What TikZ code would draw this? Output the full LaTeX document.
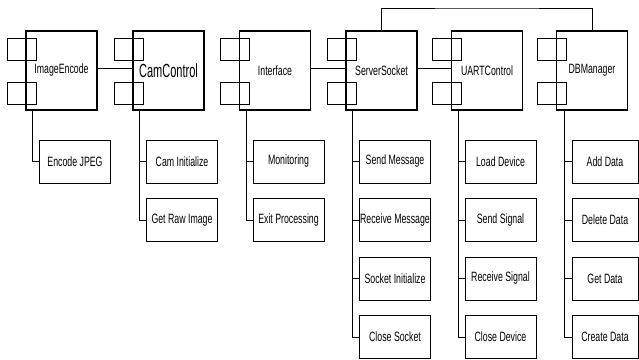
\documentclass[tikz,border=0pt]{standalone}
\usepackage{fontspec}
\setmainfont{Liberation Sans}[FakeStretch=0.65]
\newfontfamily\widecam{Liberation Sans}[FakeStretch=0.58]
\usepackage{tikz}
\usetikzlibrary{positioning}

\begin{document}
\begin{tikzpicture}[x=1pt, y=-1pt, font=\fontsize{13.5}{14}\selectfont,
  comp/.style={draw, line width=1.1pt, minimum width=71pt, minimum height=79pt, inner sep=0pt},
  port/.style={draw, line width=1pt, minimum width=29pt, minimum height=22pt, inner sep=0pt},
  task/.style={draw, line width=1pt, minimum width=71pt, minimum height=43pt, inner sep=0pt},
  link/.style={line width=0.9pt}]
\useasboundingbox (0,0) rectangle (639,359);
% components in a row
\node[comp] (ie) at (61.5,70.5) {ImageEncode};
\node[comp, font=\widecam\fontsize{19}{19}\selectfont] (cc) at (168.5,70.5) {CamControl};
\node[comp] (in) at (275,70.5) {Interface};
\node[comp] (ss) at (381.5,70.5) {ServerSocket};
\node[comp] (uc) at (487,70.5) {UARTControl};
\node[comp] (db) at (592,70.5) {DBManager};
% two ports on the left side of each component
\node[port] (ie-a) at ([shift={(-3.5,-21)}]ie.west) {}; \node[port] (ie-b) at ([shift={(-3.5,23)}]ie.west) {};
\node[port] (cc-a) at ([shift={(-3.5,-21)}]cc.west) {}; \node[port] (cc-b) at ([shift={(-3.5,23)}]cc.west) {};
\node[port] (in-a) at ([shift={(-3.5,-21)}]in.west) {}; \node[port] (in-b) at ([shift={(-3.5,23)}]in.west) {};
\node[port] (ss-a) at ([shift={(-3.5,-21)}]ss.west) {}; \node[port] (ss-b) at ([shift={(-3.5,23)}]ss.west) {};
\node[port] (uc-a) at ([shift={(-3.5,-21)}]uc.west) {}; \node[port] (uc-b) at ([shift={(-3.5,23)}]uc.west) {};
\node[port] (db-a) at ([shift={(-3.5,-21)}]db.west) {}; \node[port] (db-b) at ([shift={(-3.5,23)}]db.west) {};
% links between components
\draw[link] ([yshift=2.5pt]ie.east) -- ([yshift=2.5pt]cc.west);
\draw[link] ([yshift=2.5pt]in.east) -- ([yshift=2.5pt]ss.west);
\draw[link] ([yshift=2.5pt]ss.east) -- ([yshift=2.5pt]uc.west);
\coordinate (bus) at (487,8);
\draw[link] (ss.north) |- (bus) -| (db.north);
% functions of each component
\node[task] (ej) at (75,161.5) {Encode JPEG};
\node[task] (ci) at (182,161.5) {Cam Initialize};
\node[task, below=14.5pt of ci] (gr) {Get Raw Image};
\node[task] (mo) at (288.5,161.5) {Monitoring};
\node[task, below=14.5pt of mo] (ep) {Exit Processing};
\node[task] (sm) at (395,161.5) {Send Message};
\node[task, below=14.5pt of sm] (rm) {Receive Message};
\node[task, below=14.5pt of rm] (si) {Socket Initialize};
\node[task, below=14.5pt of si] (cs) {Close Socket};
\node[task] (ld) at (500.5,161.5) {Load Device};
\node[task, below=14.5pt of ld] (sg) {Send Signal};
\node[task, below=14.5pt of sg] (rs) {Receive Signal};
\node[task, below=14.5pt of rs] (cd) {Close Device};
\node[task, minimum width=66pt] (ad) at (605,161.5) {Add Data};
\node[task, minimum width=66pt, below=14.5pt of ad] (dd) {Delete Data};
\node[task, minimum width=66pt, below=14.5pt of dd] (gd) {Get Data};
\node[task, minimum width=66pt, below=14.5pt of gd] (cr) {Create Data};
% trunks from component to its functions
\draw[link] ([xshift=-29pt]ie.south) |- (ej.west);
\draw[link] ([xshift=-29pt]cc.south) |- (ci.west) ([xshift=-29pt]cc.south) |- (gr.west);
\draw[link] ([xshift=-29pt]in.south) |- (mo.west) ([xshift=-29pt]in.south) |- (ep.west);
\draw[link] ([xshift=-29pt]ss.south) |- (sm.west) ([xshift=-29pt]ss.south) |- (rm.west)
  ([xshift=-29pt]ss.south) |- (si.west) ([xshift=-29pt]ss.south) |- (cs.west);
\draw[link] ([xshift=-29pt]uc.south) |- (ld.west) ([xshift=-29pt]uc.south) |- (sg.west)
  ([xshift=-29pt]uc.south) |- (rs.west) ([xshift=-29pt]uc.south) |- (cd.west);
\draw[link] ([xshift=-28pt]db.south) |- (ad.west) ([xshift=-28pt]db.south) |- (dd.west)
  ([xshift=-28pt]db.south) |- (gd.west) ([xshift=-28pt]db.south) |- (cr.west);
\end{tikzpicture}
\end{document}
